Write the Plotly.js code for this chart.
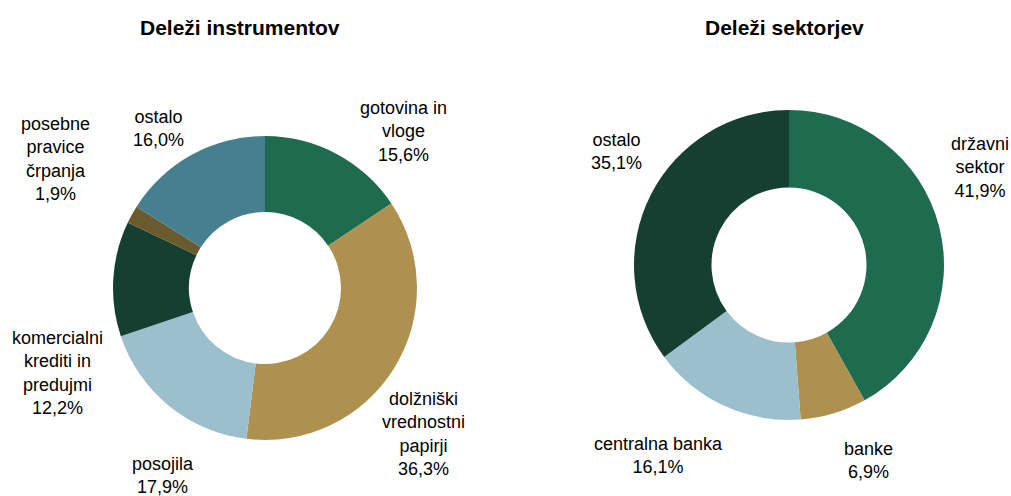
<!DOCTYPE html>
<html>
<head>
<meta charset="utf-8">
<script src="https://cdn.plot.ly/plotly-3.0.1.min.js"></script>
<style>
html,body{margin:0;padding:0;background:#fff;}
#chart{width:1011px;height:496px;}
</style>
</head>
<body>
<div id="chart"></div>
<script>
// Left donut: instruments
const instrTitle = "Deleži instrumentov";
const instrLabels = ["gotovina in<br>vloge", "dolžniški<br>vrednostni<br>papirji", "posojila", "komercialni<br>krediti in<br>predujmi", "posebne<br>pravice<br>črpanja", "ostalo"];
const instrValues = [15.6, 36.3, 17.9, 12.2, 1.9, 16.0];
const instrColors = ["#1f6b50", "#ae914f", "#9bbfcd", "#153f31", "#6b5a2e", "#467f8f"];
// label anchor positions (pixels)
const instrLabelPos = [[403,131],[423,434],[163,475],[57,373],[55,159],[158,128]];

// Right donut: sectors
const sectTitle = "Deleži sektorjev";
const sectLabels = ["državni<br>sektor", "banke", "centralna banka", "ostalo"];
const sectValues = [41.9, 6.9, 16.1, 35.1];
const sectColors = ["#1f6b50", "#ae914f", "#9bbfcd", "#153f31"];
const sectLabelPos = [[980,167],[868,460],[658,455],[616,152]];

const W = 1011, H = 496;
const FONT = "'Liberation Sans Narrow', 'Arial Narrow', 'Liberation Sans', Arial, sans-serif";
const fmt = v => v.toFixed(1).replace('.', ',') + '%';

function px(x){ return x / W; }
function py(y){ return 1 - y / H; }

const traces = [
  {
    type: 'pie', values: instrValues, labels: instrLabels, sort: false,
    direction: 'clockwise', rotation: 0, hole: 0.5,
    marker: {colors: instrColors, line: {width: 0}},
    textinfo: 'none', hoverinfo: 'label+percent', showlegend: false,
    domain: {x: [px(113), px(417)], y: [py(440), py(136)]}
  },
  {
    type: 'pie', values: sectValues, labels: sectLabels, sort: false,
    direction: 'clockwise', rotation: 0, hole: 0.5,
    marker: {colors: sectColors, line: {width: 0}},
    textinfo: 'none', hoverinfo: 'label+percent', showlegend: false,
    domain: {x: [px(634), px(944)], y: [py(420), py(110)]}
  }
];

const annotations = [];
function addLabels(labels, values, pos){
  labels.forEach((l, i) => {
    annotations.push({
      xref: 'paper', yref: 'paper', x: px(pos[i][0]), y: py(pos[i][1]),
      xanchor: 'center', yanchor: 'middle', showarrow: false,
      text: l + '<br>' + fmt(values[i]),
      font: {family: FONT, size: 18, color: '#000'}, align: 'center'
    });
  });
}
addLabels(instrLabels, instrValues, instrLabelPos);
addLabels(sectLabels, sectValues, sectLabelPos);
annotations.push({xref:'paper', yref:'paper', x: px(240), y: py(27), xanchor:'center', yanchor:'middle', showarrow:false,
  text: '<b>' + instrTitle + '</b>', font: {family: FONT, size: 21, color: '#000'}});
annotations.push({xref:'paper', yref:'paper', x: px(784), y: py(27), xanchor:'center', yanchor:'middle', showarrow:false,
  text: '<b>' + sectTitle + '</b>', font: {family: FONT, size: 21, color: '#000'}});

const layout = {
  width: W, height: H,
  margin: {l: 0, r: 0, t: 0, b: 0},
  paper_bgcolor: '#fff', plot_bgcolor: '#fff',
  showlegend: false,
  annotations: annotations
};

Plotly.newPlot('chart', traces, layout, {displayModeBar: false, staticPlot: true});
</script>
</body>
</html>
